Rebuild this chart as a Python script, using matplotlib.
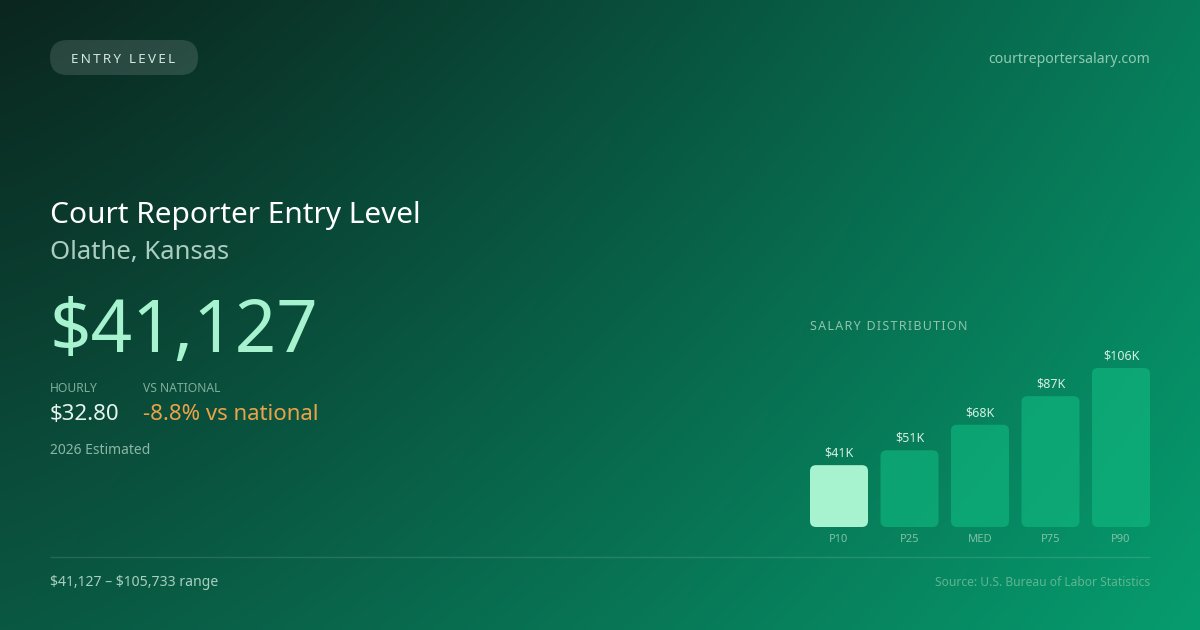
import numpy as np
import matplotlib
matplotlib.use("Agg")
import matplotlib.pyplot as plt
from matplotlib.patches import FancyBboxPatch

plt.rcParams['font.family'] = ['Noto Sans', 'DejaVu Sans']

# data
categories = ['P10', 'P25', 'MED', 'P75', 'P90']
values = [41127, 51000, 68000, 87000, 105733]
value_labels = ['\\$41K', '\\$51K', '\\$68K', '\\$87K', '\\$106K']

title = 'Court Reporter Entry Level'
location = 'Olathe, Kansas'
salary_text = '\\$41,127'
hourly_text = '\\$32.80'
vs_national_text = '-8.8% vs national'
range_text = '\\$41,127 – \\$105,733 range'

W, H = 1200, 630
fig = plt.figure(figsize=(12, 6.3), dpi=100)

# background gradient (bilinear between corner colours)
bg = fig.add_axes([0, 0, 1, 1])
bg.set_xlim(0, W)
bg.set_ylim(H, 0)
bg.axis('off')
tl = np.array([11, 38, 31]) / 255
tr = np.array([7, 124, 90]) / 255
bl = np.array([10, 88, 66]) / 255
br = np.array([6, 156, 110]) / 255
u = np.linspace(0, 1, 300)[None, :, None] ** 1.2
v = np.linspace(0, 1, 160)[:, None, None]
grad = (tl * (1 - u) + tr * u) * (1 - v) + (bl * (1 - u) + br * u) * v
bg.imshow(grad, extent=(0, W, H, 0), aspect='auto', interpolation='bilinear', zorder=0)

def spaced(s, sep='\u2009'):
    return sep.join(s)

# pill
pill = FancyBboxPatch((50, 40), 148, 35, boxstyle='round,pad=0,rounding_size=17.5',
                      fc=(1, 1, 1, 0.13), ec='none', zorder=1)
bg.add_patch(pill)
bg.text(123, 59.5, spaced('ENTRY LEVEL'), color='#d3e8df', fontsize=9.7,
        ha='center', va='center', zorder=2)
bg.text(1150, 59.5, 'courtreportersalary.com', color='#8fcbb2', fontsize=10.1,
        ha='right', va='center')

# headings
bg.text(50, 215, title, color='#ffffff', fontsize=21.5, ha='left', va='center')
bg.text(50, 253, location, color='#a9cdbf', fontsize=18.5, ha='left', va='center')
bg.text(50, 333, salary_text, color='#a7f3d0', fontsize=52.3, ha='left', va='center')

bg.text(50, 389, 'HOURLY', color='#80ad9c', fontsize=8.7, ha='left', va='center')
bg.text(143, 389, 'VS NATIONAL', color='#80ad9c', fontsize=8.7, ha='left', va='center')
bg.text(50, 415, hourly_text, color='#e6f4ee', fontsize=16, ha='left', va='center')
bg.text(143, 415, vs_national_text, color='#eba349', fontsize=16, ha='left', va='center')
bg.text(50, 451, '2026 Estimated', color='#8bb5a5', fontsize=10, ha='left', va='center')

bg.text(810, 327, spaced('SALARY DISTRIBUTION', '\u200a'), color='#8fc4ad', fontsize=9,
        ha='left', va='center')

# footer
bg.plot([50, 1150], [556.5, 556.5], color=(1, 1, 1, 0.12), lw=1, solid_capstyle='butt')
bg.text(50, 583, range_text, color='#a9cfc0', fontsize=10.1, ha='left', va='center')
bg.text(1150, 583, 'Source: U.S. Bureau of Labor Statistics', color='#5fb592',
        fontsize=8.7, ha='right', va='center')

# bar chart
pitch = 70.5
bar_w = 58 / pitch
ymax = 120000
px_per_dollar = 159 / 105733
ax_h = ymax * px_per_dollar
xlo, xhi = -bar_w / 2, len(values) - 1 + bar_w / 2
ax_w = (xhi - xlo) * pitch
ax = fig.add_axes([810 / W, (H - 527) / H, ax_w / W, ax_h / H])
ax.set_xlim(xlo, xhi)
ax.set_ylim(0, ymax)
ax.patch.set_alpha(0)
for s in ax.spines.values():
    s.set_visible(False)
ax.set_yticks([])
x = np.arange(len(values))
bars = ax.bar(x, values, width=bar_w)
aspect = (ymax / ax_h) * pitch
radius = 6 / pitch
for i, b in enumerate(bars):
    fc = '#a7f3d0' if i == 0 else (0.063, 0.725, 0.506, 0.62)
    p = FancyBboxPatch((b.get_x(), 0), b.get_width(), b.get_height(),
                       boxstyle=f'round,pad=0,rounding_size={radius}',
                       mutation_aspect=aspect, fc=fc, ec='none')
    b.remove()
    ax.add_patch(p)
    ax.annotate(value_labels[i], (x[i], values[i]), xytext=(0, 4),
                textcoords='offset points', ha='center', va='bottom',
                color='#d4efe3', fontsize=9)
ax.set_xticks(x)
ax.set_xticklabels(categories)
ax.tick_params(axis='x', length=0, pad=5, labelsize=8, labelcolor='#7fc2a6')

fig.savefig('out.png', dpi=100)
